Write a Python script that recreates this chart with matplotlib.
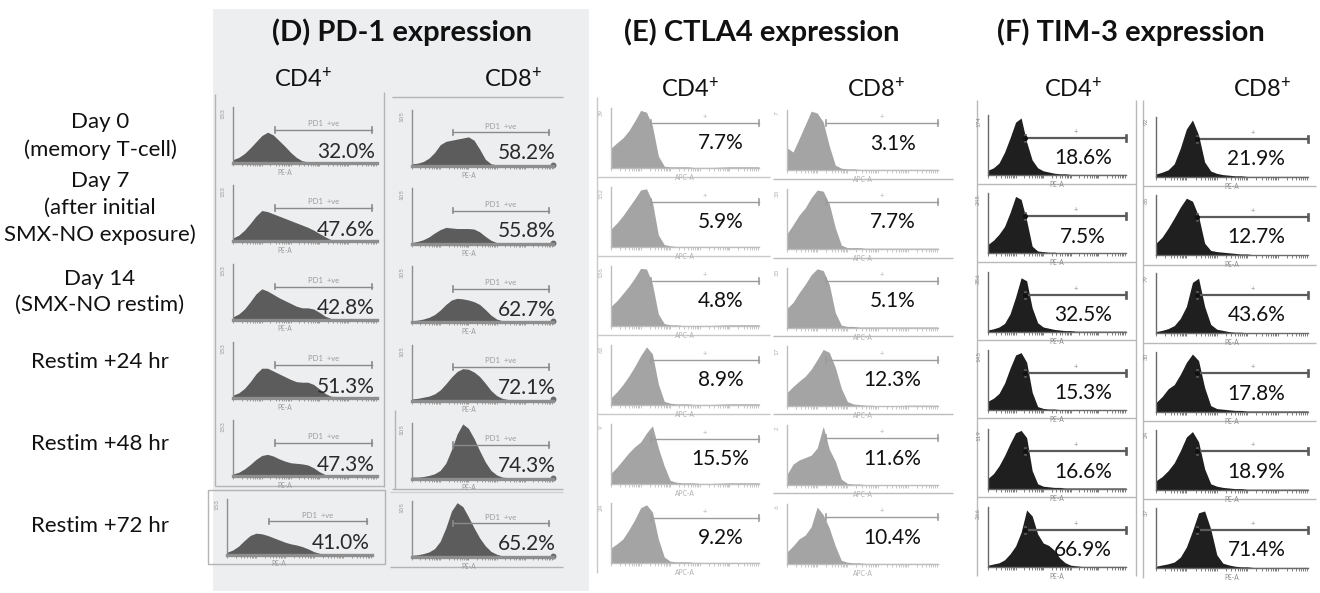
import numpy as np
import matplotlib
matplotlib.use("Agg")
import matplotlib.pyplot as plt
from matplotlib.patches import Rectangle

plt.rcParams['font.family'] = ['Lato', 'DejaVu Sans']
plt.rcParams['mathtext.fontset'] = 'custom'
plt.rcParams['mathtext.rm'] = 'Lato'
plt.rcParams['mathtext.it'] = 'Lato:italic'
plt.rcParams['mathtext.bf'] = 'Lato:bold'

W, H = 1320, 593

# ---------------------------------------------------------------- data
# position along the (log-scaled) fluorescence axis, 0 = left, 1 = right
intensity = [0.00, 0.04, 0.08, 0.12, 0.16, 0.20, 0.24, 0.28, 0.32, 0.36,
             0.40, 0.44, 0.48, 0.52, 0.56, 0.60, 0.64, 0.68, 0.80, 1.00]

row_labels = ["Day 0\n(memory T-cell)",
              "Day 7\n(after initial\nSMX-NO exposure)",
              "Day 14\n(SMX-NO restim)",
              "Restim +24 hr",
              "Restim +48 hr",
              "Restim +72 hr"]

panel_titles = ["(D) PD-1 expression", "(E) CTLA4 expression", "(F) TIM-3 expression"]
subset_labels = [r"CD4$^{+}$", r"CD8$^{+}$"]
channel_labels = ["PE-A", "APC-A", "PE-A"]
gate_labels = ["PD1  +ve", "+", "+"]

pd1_cd4_pct = [32.0, 47.6, 42.8, 51.3, 47.3, 41.0]
pd1_cd8_pct = [58.2, 55.8, 62.7, 72.1, 74.3, 65.2]
ctla4_cd4_pct = [7.7, 5.9, 4.8, 8.9, 15.5, 9.2]
ctla4_cd8_pct = [3.1, 7.7, 5.1, 12.3, 11.6, 10.4]
tim3_cd4_pct = [18.6, 7.5, 32.5, 15.3, 16.6, 66.9]
tim3_cd8_pct = [21.9, 12.7, 43.6, 17.8, 18.9, 71.4]

pd1_cd4_ymax = ["153", "153", "153", "153", "153", "153"]
pd1_cd8_ymax = ["105", "105", "105", "105", "105", "105"]
ctla4_cd4_ymax = ["39", "152", "136", "63", "9", "24"]
ctla4_cd8_ymax = ["7", "33", "33", "17", "2", "6"]
tim3_cd4_ymax = ["174", "245", "356", "145", "119", "266"]
tim3_cd8_ymax = ["92", "66", "79", "30", "24", "37"]

# event counts, relative to the top of each histogram's y axis
pd1_cd4_counts = [
    [.06, .10, .17, .27, .38, .49, .55, .50, .40, .30, .19, .10, .04, .02, .02, .01, .01, .01, .01, .01],
    [.06, .11, .20, .32, .45, .55, .53, .49, .45, .41, .37, .33, .29, .25, .20, .14, .08, .03, .01, .01],
    [.05, .10, .19, .32, .46, .55, .51, .45, .39, .34, .29, .24, .21, .21, .19, .13, .06, .02, .01, .01],
    [.05, .09, .17, .29, .43, .53, .53, .48, .43, .38, .33, .29, .28, .28, .24, .16, .08, .03, .01, .01],
    [.04, .07, .13, .21, .30, .37, .39, .36, .31, .27, .24, .23, .22, .20, .15, .08, .03, .02, .01, .01],
    [.04, .08, .15, .25, .34, .38, .37, .34, .30, .26, .22, .19, .17, .14, .10, .05, .02, .01, .01, .01],
]
pd1_cd8_counts = [
    [.04, .05, .08, .14, .24, .38, .44, .46, .48, .50, .52, .46, .30, .12, .04, .02, .02, .01, .01, .02],
    [.03, .05, .08, .13, .20, .26, .30, .29, .28, .28, .28, .27, .22, .14, .07, .03, .02, .01, .01, .02],
    [.03, .04, .06, .09, .14, .22, .32, .40, .43, .42, .40, .37, .32, .23, .13, .06, .03, .02, .01, .02],
    [.03, .04, .06, .08, .12, .19, .30, .42, .52, .57, .56, .51, .43, .31, .18, .09, .04, .02, .01, .02],
    [.03, .03, .04, .06, .09, .15, .28, .52, .80, .98, .90, .72, .50, .30, .15, .07, .03, .02, .01, .02],
    [.03, .04, .06, .09, .15, .28, .52, .82, .97, .90, .72, .52, .34, .20, .10, .05, .02, .01, .01, .02],
]
ctla4_cd4_counts = [
    [.33, .42, .50, .62, .78, .96, .93, .70, .20, .03, .02, .02, .02, .02, .01, .01, .01, .01, .02, .02],
    [.30, .40, .52, .66, .80, .95, .97, .75, .20, .04, .02, .01, .01, .01, .01, .01, .01, .01, .01, .01],
    [.33, .42, .54, .66, .80, .96, .95, .70, .20, .04, .02, .02, .01, .01, .01, .01, .01, .01, .02, .02],
    [.12, .22, .34, .48, .64, .82, .97, .85, .35, .06, .03, .02, .02, .02, .01, .01, .01, .01, .02, .02],
    [.18, .28, .40, .52, .62, .70, .85, .97, .60, .30, .06, .03, .02, .02, .02, .01, .01, .01, .02, .02],
    [.25, .32, .40, .55, .72, .92, .97, .85, .40, .10, .03, .02, .02, .02, .01, .01, .01, .01, .01, .01],
]
ctla4_cd8_counts = [
    [.37, .30, .52, .75, .98, .95, .80, .40, .08, .03, .02, .02, .01, .01, .01, .01, .01, .01, .01, .01],
    [.25, .40, .56, .68, .85, .98, .96, .75, .35, .06, .02, .02, .02, .01, .01, .01, .01, .01, .01, .01],
    [.32, .42, .58, .72, .88, .98, .95, .72, .25, .04, .02, .02, .01, .01, .01, .01, .01, .01, .01, .01],
    [.23, .33, .42, .50, .62, .78, .95, .90, .65, .30, .08, .04, .03, .02, .02, .01, .01, .01, .02, .02],
    [.18, .35, .42, .46, .50, .62, .98, .60, .40, .10, .03, .02, .02, .01, .01, .01, .01, .01, .01, .01],
    [.20, .30, .42, .48, .62, .95, .82, .60, .30, .06, .03, .02, .02, .01, .01, .01, .01, .01, .01, .01],
]
tim3_cd4_counts = [
    [.08, .12, .20, .38, .62, .88, .95, .55, .25, .12, .07, .05, .03, .02, .02, .01, .01, .01, .01, .01],
    [.15, .22, .32, .45, .68, .95, .90, .55, .12, .04, .03, .02, .02, .01, .01, .01, .01, .01, .01, .01],
    [.03, .05, .08, .14, .30, .58, .90, .85, .40, .15, .08, .06, .04, .03, .02, .02, .01, .01, .01, .01],
    [.15, .20, .28, .45, .70, .92, .96, .80, .30, .06, .03, .02, .02, .01, .01, .01, .01, .01, .01, .01],
    [.17, .25, .38, .55, .75, .93, .97, .85, .30, .08, .04, .03, .02, .02, .01, .01, .01, .01, .01, .01],
    [.03, .05, .07, .12, .22, .35, .58, .95, .85, .55, .40, .36, .28, .15, .07, .03, .02, .01, .01, .01],
]
tim3_cd8_counts = [
    [.05, .08, .12, .22, .48, .80, .95, .70, .25, .10, .06, .04, .03, .02, .02, .01, .01, .01, .01, .01],
    [.20, .30, .45, .62, .80, .95, .90, .65, .20, .08, .06, .05, .04, .03, .02, .02, .01, .01, .01, .01],
    [.03, .05, .08, .13, .25, .45, .85, .92, .45, .15, .07, .05, .03, .02, .02, .01, .01, .01, .01, .01],
    [.15, .25, .38, .45, .62, .82, .96, .85, .40, .10, .05, .04, .03, .02, .02, .01, .01, .01, .01, .01],
    [.15, .22, .32, .45, .65, .88, .97, .80, .35, .10, .06, .04, .03, .02, .02, .01, .01, .01, .01, .01],
    [.03, .05, .07, .10, .18, .35, .62, .92, .95, .65, .22, .08, .05, .03, .02, .02, .01, .01, .01, .01],
]

# ---------------------------------------------------------------- styles
styles = [
    dict(fill="#5c5c5c", spine="#8e8e8e", base_lw=2.4, gate="#8a8a8a", gate_lw=1.0,
         label="#9a9a9a", pct_color="#2a2a2a"),
    dict(fill="#a4a4a4", spine="#bdbdbd", base_lw=1.0, gate="#9c9c9c", gate_lw=1.0,
         label="#b0b0b0", pct_color="#111111"),
    dict(fill="#1f1f1f", spine="#6a6a6a", base_lw=1.0, gate="#5a5a5a", gate_lw=1.6,
         label="#8a8a8a", pct_color="#111111"),
]

# per column: y-axis x, x-axis end, first baseline, row pitch, axis height,
# gate (start, end, height), percent label (x, y, ha), channel label x
columns = [
    # PD-1
    dict(panel=0, x0=233, x1=377, base0=163, pitch=78.3, h=56,
         gate=(0.29, 0.965, 0.59), pct=(0.985, 0.20, "right"), chan_x=0.36,
         counts=pd1_cd4_counts, pcts=pd1_cd4_pct, ymax=pd1_cd4_ymax),
    dict(panel=0, x0=412, x1=553, base0=166, pitch=78.2, h=56,
         gate=(0.29, 0.97, 0.60), pct=(1.02, 0.23, "right"), chan_x=0.40,
         counts=pd1_cd8_counts, pcts=pd1_cd8_pct, ymax=pd1_cd8_ymax, end_dot=True),
    # CTLA4
    dict(panel=1, x0=611, x1=759, base0=168, pitch=79.0, h=60,
         gate=(0.27, 1.0, 0.75), pct=(0.74, 0.41, "center"), chan_x=0.50,
         counts=ctla4_cd4_counts, pcts=ctla4_cd4_pct, ymax=ctla4_cd4_ymax),
    dict(panel=1, x0=787, x1=938, base0=170, pitch=78.8, h=60,
         gate=(0.26, 1.0, 0.78), pct=(0.70, 0.44, "center"), chan_x=0.50,
         counts=ctla4_cd8_counts, pcts=ctla4_cd8_pct, ymax=ctla4_cd8_ymax),
    # TIM-3
    dict(panel=2, x0=988, x1=1126, base0=175, pitch=78.4, h=60,
         gate=(0.27, 1.0, 0.62), pct=(0.69, 0.28, "center"), chan_x=0.50,
         counts=tim3_cd4_counts, pcts=tim3_cd4_pct, ymax=tim3_cd4_ymax),
    dict(panel=2, x0=1156, x1=1308, base0=177, pitch=78.2, h=60,
         gate=(0.27, 1.0, 0.64), pct=(0.66, 0.30, "center"), chan_x=0.50,
         counts=tim3_cd8_counts, pcts=tim3_cd8_pct, ymax=tim3_cd8_ymax),
]

fig = plt.figure(figsize=(W / 100, H / 100), dpi=100)
fig.patch.set_facecolor("white")

# full-figure layer in pixel units for panel backgrounds, frames and labels
bg = fig.add_axes([0, 0, 1, 1], zorder=-1)
bg.set_xlim(0, W)
bg.set_ylim(H, 0)
bg.axis("off")

bg.add_patch(Rectangle((213, 9), 376, 582, facecolor="#edeef0", edgecolor="none"))


def frame(xs, ys, color, lw=1.0):
    bg.plot(xs, ys, color=color, lw=lw, solid_capstyle="butt")


# PD-1 cell frames
cD = "#b4b4b4"
frame([215, 215], [94, 486], cD)
frame([384, 384], [92, 487], cD)
frame([215, 384], [486, 486], cD)
frame([208, 385, 385, 208, 208], [490, 490, 564, 564, 490], cD)
frame([392, 563], [97, 97], cD)
frame([395, 395], [410, 489], cD)
frame([392, 563], [489, 489], cD)
frame([390, 563], [492, 492], "#cfd0d2")
frame([390, 563], [567, 567], cD)

# CTLA4 cell frames
cE = "#c9c9c9"
frame([597, 597], [97, 573], cE)
for yy in [177, 256, 335, 414]:
    frame([597, 770], [yy, yy], cE)
for yy in [179, 258, 336, 414, 493]:
    frame([773, 953], [yy, yy], "#bcbcbc")

# TIM-3 cell frames
cF = "#b9b9b9"
frame([977, 977], [100, 576], cF)
frame([1136, 1136], [100, 576], cF)
frame([1143, 1143], [100, 578], cF)
for yy in [184, 262, 340, 418, 497]:
    frame([977, 1136], [yy, yy], cF)
for yy in [186, 265, 343, 421, 499]:
    frame([1143, 1316], [yy, yy], cF)

# titles and column headers
title_x = [402, 762, 1131]
for tx, t in zip(title_x, panel_titles):
    bg.text(tx, 32, t, ha="center", va="center", fontsize=21, fontweight="bold",
            color="#111111")

header_pos = [(303, 78), (513, 78), (690, 88), (876, 88), (1073, 88), (1262, 88)]
for k, (hx, hy) in enumerate(header_pos):
    bg.text(hx, hy, subset_labels[k % 2], ha="center", va="center", fontsize=17,
            color="#111111")

row_label_y = [136, 208, 292, 362, 444, 526]
for ry, lab in zip(row_label_y, row_labels):
    bg.text(100, ry, lab, ha="center", va="center", fontsize=16, color="#111111",
            linespacing=1.4)

# log-decade tick positions along the fluorescence axis
decade_ticks = []
for d in np.arange(0.0, 1.0, 0.2):
    for k in range(1, 10):
        p = d + 0.2 * np.log10(k)
        if p <= 1.0:
            decade_ticks.append(p)


def draw_cell(col, r):
    st = styles[col["panel"]]
    x0, x1 = col["x0"], col["x1"]
    if col["panel"] == 0 and x0 == 233 and r == 5:
        x0, x1 = x0 - 6, x1 - 5
    base = col["base0"] + col["pitch"] * r
    ax = fig.add_axes([x0 / W, 1 - base / H, (x1 - x0) / W, col["h"] / H])
    ax.patch.set_alpha(0)
    ax.set_xlim(0, 1)
    ax.set_ylim(0, 1)
    ax.fill_between(intensity, col["counts"][r], 0, color=st["fill"], lw=0)

    for s in ["top", "right"]:
        ax.spines[s].set_visible(False)
    ax.spines["left"].set_color(st["spine"])
    ax.spines["left"].set_linewidth(1.0)
    ax.spines["bottom"].set_color(st["spine"])
    ax.spines["bottom"].set_linewidth(st["base_lw"])
    ax.set_yticks([])
    ax.set_xticks(decade_ticks)
    ax.set_xticklabels([])
    ax.tick_params(axis="x", length=2, width=0.6, color=st["spine"], direction="out")

    # y-axis maximum count
    ax.text(-0.05, 0.98, col["ymax"][r], rotation=90, ha="right", va="top",
            fontsize=4.5, color=st["label"], transform=ax.transAxes)
    # channel name
    ax.text(col["chan_x"], -0.10, channel_labels[col["panel"]], ha="center", va="top",
            fontsize=4.8, color=st["label"], transform=ax.transAxes)

    # positive gate
    g0, g1, gy = col["gate"]
    ax.plot([g0, g1], [gy, gy], color=st["gate"], lw=st["gate_lw"], clip_on=False)
    for gx in (g0, g1):
        ax.plot([gx, gx], [gy - 0.05, gy + 0.05], color=st["gate"],
                lw=st["gate_lw"] * 1.2, clip_on=False)
    if col["panel"] == 2:
        ax.plot([g0], [gy], marker="o", ms=2.6, color="#111111", clip_on=False)
    ax.text((g0 + g1) / 2, gy + 0.05, gate_labels[col["panel"]], ha="center",
            va="bottom", fontsize=5.5, color=st["label"], transform=ax.transAxes)

    if col.get("end_dot"):
        ax.plot([1.0], [0.02], marker="o", ms=3.2, color="#6a6a6a", clip_on=False)

    px, py, pha = col["pct"]
    ax.text(px, py, f"{col['pcts'][r]:.1f}%", ha=pha, va="center", fontsize=15,
            color=st["pct_color"], transform=ax.transAxes)


for col in columns:
    for r in range(6):
        draw_cell(col, r)

fig.savefig("out.png", dpi=100, facecolor="white")
